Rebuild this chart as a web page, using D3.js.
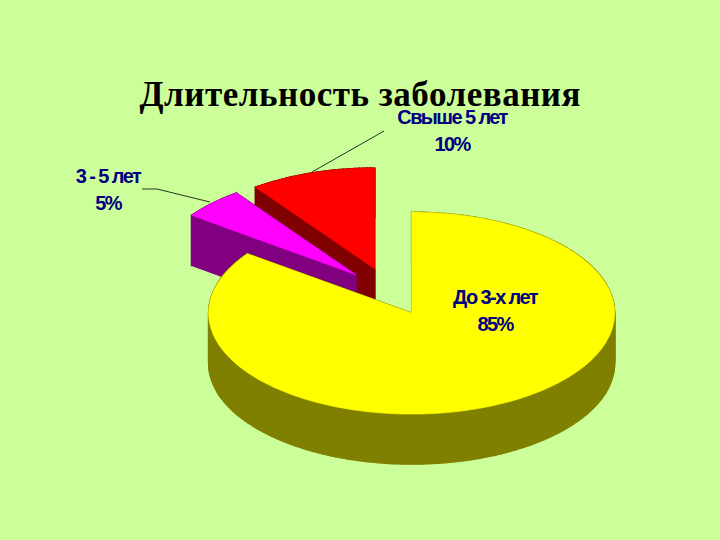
<!DOCTYPE html>
<html><head><meta charset="utf-8">
<script src="https://cdn.jsdelivr.net/npm/d3@7"></script>
<style>html,body{margin:0;padding:0;background:#CCFF99}svg{display:block}</style>
</head><body><svg id="c" width="720" height="540"></svg>
<script>
const title = "Длительность заболевания";
const categories = ["До 3-х лет", "3 - 5 лет", "Свыше 5 лет"];
const values = [85, 5, 10];
const percentLabels = ["85%", "5%", "10%"];
const topColors = ["#FFFF00", "#FF00FF", "#FF0000"];
const sideColors = ["#808000", "#800080", "#800000"];
const explode = [0.24, 0.235, 0.235];
const labelPos = [[495, 304], [108, 183], [452, 124]];
const leaders = [null, [[142,189],[157,189],[210,202]], [[384,131],[312,172]]];

const RX = 203, RY = 101, DEPTH = 50, CX = 389.5, CY = 291.5;
const svg = d3.select("#c");
const arcs = d3.pie().sort(null).value(d => d)(values);
const px = d3.scaleLinear().domain([-1, 1]).range([-RX, RX]);
const py = d3.scaleLinear().domain([-1, 1]).range([RY, -RY]);
const line = d3.line();

function outline(a, c) {
  const n = Math.max(2, Math.ceil((a.endAngle - a.startAngle) / 0.02));
  const pts = d3.range(n + 1).map(i => {
    const t = a.startAngle + (a.endAngle - a.startAngle) * i / n;
    return [c[0] + px(Math.sin(t)), c[1] + py(Math.cos(t))];
  });
  return [c, ...pts];
}
const slices = arcs.map((a, i) => {
  const mid = (a.startAngle + a.endAngle) / 2;
  const c = [CX + px(Math.sin(mid)) * explode[i], CY + py(Math.cos(mid)) * explode[i]];
  return { i, pts: outline(a, c) };
});
// painter's order: back slices first
[2, 1, 0].forEach(i => {
  const s = slices[i];
  const g = svg.append("g");
  const closed = [...s.pts, s.pts[0]];
  g.selectAll("path.side").data(d3.pairs(closed)).join("path").attr("class", "side")
    .attr("d", ([p, q]) => line([p, q, [q[0], q[1] + DEPTH], [p[0], p[1] + DEPTH]]) + "Z")
    .attr("fill", sideColors[i]).attr("stroke", sideColors[i]).attr("stroke-width", 1.4);
  g.append("path").attr("d", line(s.pts) + "Z").attr("fill", topColors[i])
    .attr("stroke", topColors[i]).attr("stroke-width", 0.6);
});

svg.append("g").selectAll("path").data(leaders.filter(Boolean)).join("path")
  .attr("d", d => line(d)).attr("fill", "none").attr("stroke", "#000").attr("stroke-width", 0.8);

svg.append("text").attr("x", 360).attr("y", 106).attr("text-anchor", "middle")
  .attr("font-family", "Liberation Serif").attr("font-weight", "bold").attr("font-size", 35)
  .attr("fill", "#000").attr("textLength", 441).text(title);

categories.forEach((c, i) => {
  const [x, y] = labelPos[i];
  [[c, y], [percentLabels[i], y + 27]].forEach(([t, yy]) => {
    svg.append("text").attr("x", x).attr("y", yy).attr("text-anchor", "middle")
      .attr("font-family", "Liberation Sans").attr("font-weight", "bold").attr("font-size", 20)
      .attr("letter-spacing", -1.6).attr("fill", "#000080").text(t);
  });
});
</script></body></html>
